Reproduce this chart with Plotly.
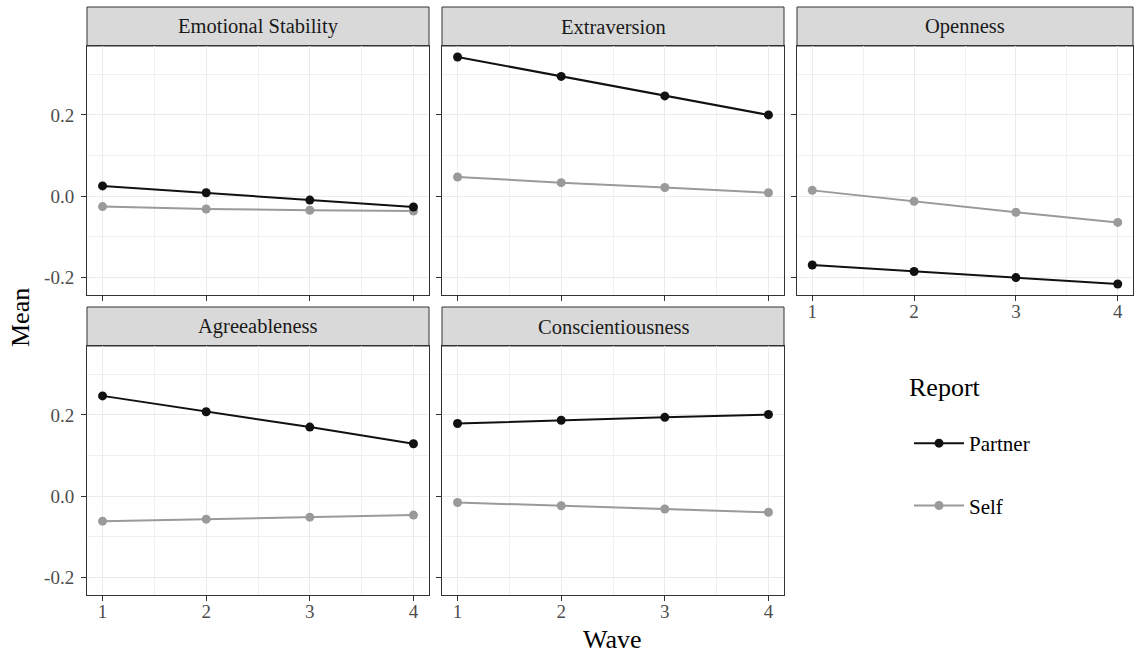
import plotly.graph_objects as go

waves = [1, 2, 3, 4]
traits = ["Emotional Stability", "Extraversion", "Openness", "Agreeableness", "Conscientiousness"]
partner = {
    "Emotional Stability": [0.025, 0.008, -0.010, -0.027],
    "Extraversion": [0.343, 0.295, 0.247, 0.200],
    "Openness": [-0.170, -0.186, -0.201, -0.217],
    "Agreeableness": [0.247, 0.208, 0.170, 0.129],
    "Conscientiousness": [0.179, 0.187, 0.194, 0.201],
}
self_r = {
    "Emotional Stability": [-0.026, -0.032, -0.035, -0.037],
    "Extraversion": [0.047, 0.033, 0.021, 0.008],
    "Openness": [0.014, -0.013, -0.040, -0.065],
    "Agreeableness": [-0.062, -0.057, -0.052, -0.047],
    "Conscientiousness": [-0.016, -0.024, -0.032, -0.040],
}
ytick_vals = [-0.2, 0.0, 0.2]
ytick_text = ["-0.2", "0.0", "0.2"]
xtick_vals = [1, 2, 3, 4]
xtick_text = ["1", "2", "3", "4"]

W, H = 1135, 657
FONT = "Liberation Serif"
cols_px = [(87, 429), (442, 784), (797, 1133)]
rows_px = [(46, 295), (346, 595)]
strips_px = [(7, 46), (307, 346)]
layout_pos = [(0, 0), (0, 1), (0, 2), (1, 0), (1, 1)]
xlabels_on = {"Openness", "Agreeableness", "Conscientiousness"}

fig = go.Figure()
shapes = []
annotations = []

for i, t in enumerate(traits):
    r, c = layout_pos[i]
    n = i + 1
    xa = "x" if n == 1 else f"x{n}"
    ya = "y" if n == 1 else f"y{n}"
    x0, x1 = cols_px[c]
    y0, y1 = rows_px[r]
    common = dict(
        showline=True, mirror=True, linecolor="#333333", linewidth=1,
        showgrid=True, gridcolor="#ebebeb", gridwidth=1.1,
        ticks="outside", ticklen=5, tickcolor="#333333", tickwidth=1,
        zeroline=False, tickfont=dict(family=FONT, size=19, color="#4d4d4d"),
    )
    fig.layout[("xaxis" if n == 1 else f"xaxis{n}")] = dict(
        common, domain=[x0 / W, x1 / W], anchor=ya, range=[0.85, 4.15],
        tickvals=xtick_vals, ticktext=xtick_text if t in xlabels_on else ["", "", "", ""],
        ticklabelstandoff=-6,
        minor=dict(tickvals=[1.5, 2.5, 3.5], showgrid=True, gridcolor="#f0f0f0", gridwidth=0.6, ticks=""),
    )
    fig.layout[("yaxis" if n == 1 else f"yaxis{n}")] = dict(
        common, domain=[1 - y1 / H, 1 - y0 / H], anchor=xa, range=[-0.244, 0.370],
        tickvals=ytick_vals, ticktext=ytick_text if c == 0 else ["", "", ""],
        ticklabelstandoff=3,
        minor=dict(tickvals=[-0.1, 0.1, 0.3], showgrid=True, gridcolor="#f0f0f0", gridwidth=0.6, ticks=""),
    )
    fig.add_trace(go.Scatter(
        x=waves, y=self_r[t], mode="lines+markers", name="Self", legendgroup="Self",
        showlegend=(i == 0), line=dict(color="#9a9a9a", width=2), marker=dict(color="#9a9a9a", size=9),
        xaxis=xa, yaxis=ya, legendrank=2,
    ))
    fig.add_trace(go.Scatter(
        x=waves, y=partner[t], mode="lines+markers", name="Partner", legendgroup="Partner",
        showlegend=(i == 0), line=dict(color="#111111", width=2), marker=dict(color="#111111", size=9),
        xaxis=xa, yaxis=ya, legendrank=1,
    ))
    sy0, sy1 = strips_px[r]
    shapes.append(dict(type="rect", xref="paper", yref="paper",
                       x0=x0 / W, x1=x1 / W, y0=1 - sy1 / H, y1=1 - sy0 / H,
                       fillcolor="#d9d9d9", line=dict(color="#333333", width=1), layer="below"))
    annotations.append(dict(text=t, xref="paper", yref="paper", x=(x0 + x1) / 2 / W,
                            y=1 - (sy0 + sy1) / 2 / H, showarrow=False, xanchor="center", yanchor="middle",
                            font=dict(family=FONT, size=20.5, color="#1a1a1a")))

annotations.append(dict(text="Mean", xref="paper", yref="paper", x=20 / W, y=1 - 318 / H,
                        showarrow=False, textangle=-90, xanchor="center", yanchor="middle",
                        font=dict(family=FONT, size=26, color="black")))
annotations.append(dict(text="Wave", xref="paper", yref="paper", x=612 / W, y=1 - 639 / H,
                        showarrow=False, xanchor="center", yanchor="middle",
                        font=dict(family=FONT, size=26, color="black")))
annotations.append(dict(text="Report", xref="paper", yref="paper", x=907 / W, y=1 - 387 / H,
                        showarrow=False, xanchor="left", yanchor="middle",
                        font=dict(family=FONT, size=26, color="black")))

fig.update_layout(
    width=W, height=H, margin=dict(l=0, r=0, t=0, b=0),
    paper_bgcolor="white", plot_bgcolor="white",
    shapes=shapes, annotations=annotations,
    legend=dict(x=909 / W, y=1 - 423 / H, xanchor="left", yanchor="top",
                font=dict(family=FONT, size=21, color="black"),
                tracegroupgap=32, itemwidth=50, bgcolor="rgba(0,0,0,0)"),
    hovermode=False,
)
fig.write_html("out.html", config={"displayModeBar": False},
               post_script="document.body.style.margin='0';document.body.style.overflow='hidden';")
